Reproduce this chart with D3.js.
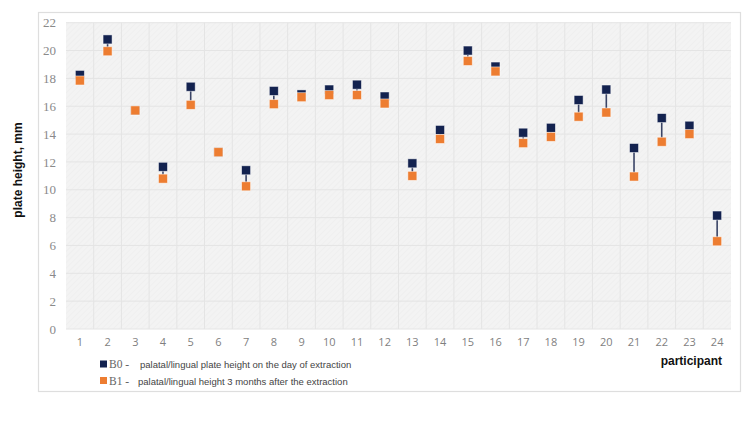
<!DOCTYPE html>
<html>
<head>
<meta charset="utf-8">
<script src="https://cdn.jsdelivr.net/npm/d3@7"></script>
<style>
  body { margin: 0; background: #fff; }
  svg { display: block; }
</style>
</head>
<body>
<div id="chart"></div>
<script>
// participants and the two measurements (mm)
var participants = d3.range(1, 25);
var b0 = [18.25, 20.8, 15.7, 11.65, 17.4, 12.7, 11.4, 17.1, 16.85, 17.2, 17.55, 16.7,
          11.9, 14.3, 20.0, 18.85, 14.1, 14.45, 16.45, 17.2, 13.0, 15.15, 14.6, 8.15];
var b1 = [17.85, 19.95, 15.7, 10.8, 16.1, 12.7, 10.25, 16.15, 16.65, 16.8, 16.8, 16.2,
          11.0, 13.65, 19.25, 18.5, 13.35, 13.8, 15.25, 15.55, 10.95, 13.45, 14.0, 6.3];
var yTicks = d3.range(0, 23, 2);
var legendLabels = [
    {key: "B0 -", text: "palatal/lingual plate height on the day of extraction", color: "#13224f"},
    {key: "B1 -", text: "palatal/lingual height 3 months after the extraction", color: "#ed7d31"}
];

var width = 750, height = 428;
var plot = {left: 66, right: 731, top: 22.7, bottom: 329};

var svg = d3.select("#chart")
    .append("svg")
    .attr("width", width)
    .attr("height", height);

// faint hatch like the original background
var defs = svg.append("defs");
var pat = defs.append("pattern")
    .attr("id", "hatch")
    .attr("patternUnits", "userSpaceOnUse")
    .attr("width", 4)
    .attr("height", 4)
    .attr("patternTransform", "rotate(45)");
pat.append("rect").attr("width", 4).attr("height", 4).attr("fill", "#f3f3f3");
pat.append("line").attr("x1", 0).attr("y1", 0).attr("x2", 0).attr("y2", 4)
    .attr("stroke", "#ebebeb").attr("stroke-width", 1);

// outer frame
svg.append("rect")
    .attr("x", 38.5).attr("y", 12.5)
    .attr("width", 702).attr("height", 379)
    .attr("fill", "#fff")
    .attr("stroke", "#dedede")
    .attr("stroke-width", 1.2);

var x = d3.scaleBand()
    .domain(participants)
    .range([plot.left, plot.right]);

var y = d3.scaleLinear()
    .domain([0, 22])
    .range([plot.bottom, plot.top]);

svg.append("rect")
    .attr("x", plot.left).attr("y", plot.top)
    .attr("width", plot.right - plot.left)
    .attr("height", plot.bottom - plot.top)
    .attr("fill", "url(#hatch)");

// grid
var grid = svg.append("g");
grid.selectAll(".hgrid")
    .data(yTicks)
    .enter()
    .append("line")
    .attr("x1", plot.left).attr("x2", plot.right)
    .attr("y1", function(d){ return y(d); })
    .attr("y2", function(d){ return y(d); })
    .attr("stroke", "#e4e4e4")
    .attr("stroke-width", 1);
grid.selectAll(".vgrid")
    .data(participants.slice(1))
    .enter()
    .append("line")
    .attr("x1", function(d){ return x(d); })
    .attr("x2", function(d){ return x(d); })
    .attr("y1", plot.top).attr("y2", plot.bottom)
    .attr("stroke", "#e4e4e4")
    .attr("stroke-width", 1);

// y axis
var yAxis = svg.append("g")
    .attr("transform", "translate(" + (plot.left - 10) + ",0)")
    .call(d3.axisLeft(y).tickValues(yTicks).tickSize(0).tickPadding(0));
yAxis.select(".domain").remove();
yAxis.selectAll("text")
    .attr("fill", "#8a8a8a")
    .attr("font-family", "'Liberation Serif', serif")
    .attr("font-size", 13);

// x axis
var xAxis = svg.append("g")
    .attr("transform", "translate(0," + plot.bottom + ")")
    .call(d3.axisBottom(x).tickSize(0).tickPadding(9));
xAxis.select(".domain").remove();
xAxis.selectAll("text")
    .attr("fill", "#7f7f7f")
    .attr("font-family", "'Open Sans', sans-serif")
    .attr("font-size", 11);

// axis titles
svg.append("text")
    .attr("transform", "translate(22," + 170 + ") rotate(-90)")
    .attr("text-anchor", "middle")
    .attr("font-family", "'Liberation Sans', Arial, sans-serif")
    .attr("font-weight", "bold")
    .attr("font-size", 12)
    .attr("fill", "#111")
    .text("plate height, mm");

svg.append("text")
    .attr("x", 722).attr("y", 365)
    .attr("text-anchor", "end")
    .attr("font-family", "'Liberation Sans', Arial, sans-serif")
    .attr("font-weight", "bold")
    .attr("font-size", 12)
    .attr("fill", "#111")
    .text("participant");

// connector lines
var cx = function(d, i){ return x(participants[i]) + x.bandwidth() / 2; };
svg.append("g").selectAll("line")
    .data(b0)
    .enter()
    .append("line")
    .attr("x1", cx).attr("x2", cx)
    .attr("y1", function(d){ return y(d); })
    .attr("y2", function(d, i){ return y(b1[i]); })
    .attr("stroke", "#3a4466")
    .attr("stroke-width", 1.6);

var ms = 9;
function drawSeries(vals, color){
    svg.append("g").selectAll("rect")
        .data(vals)
        .enter()
        .append("rect")
        .attr("x", function(d, i){ return cx(d, i) - ms / 2; })
        .attr("y", function(d){ return y(d) - ms / 2; })
        .attr("width", ms).attr("height", ms)
        .attr("fill", color)
        .attr("stroke", "#fff")
        .attr("stroke-opacity", 0.6)
        .attr("stroke-width", 0.8);
}
drawSeries(b0, legendLabels[0].color);
drawSeries(b1, legendLabels[1].color);

// legend
var legend = svg.append("g").selectAll("g")
    .data(legendLabels)
    .enter()
    .append("g")
    .attr("transform", function(d, i){ return "translate(100," + (364 + i * 16.5) + ")"; });
legend.append("rect")
    .attr("x", 0).attr("y", -3.5)
    .attr("width", 7).attr("height", 7)
    .attr("fill", function(d){ return d.color; });
legend.append("text")
    .attr("x", 9).attr("y", 4)
    .attr("font-family", "'Liberation Serif', serif")
    .attr("font-size", 11.5)
    .attr("fill", "#666")
    .text(function(d){ return d.key; });
legend.append("text")
    .attr("x", function(d, i){ return i == 0 ? 40 : 38; }).attr("y", 4)
    .attr("font-family", "'Liberation Sans', Arial, sans-serif")
    .attr("font-size", 9.5)
    .attr("fill", "#444")
    .text(function(d){ return d.text; });
</script>
</body>
</html>
